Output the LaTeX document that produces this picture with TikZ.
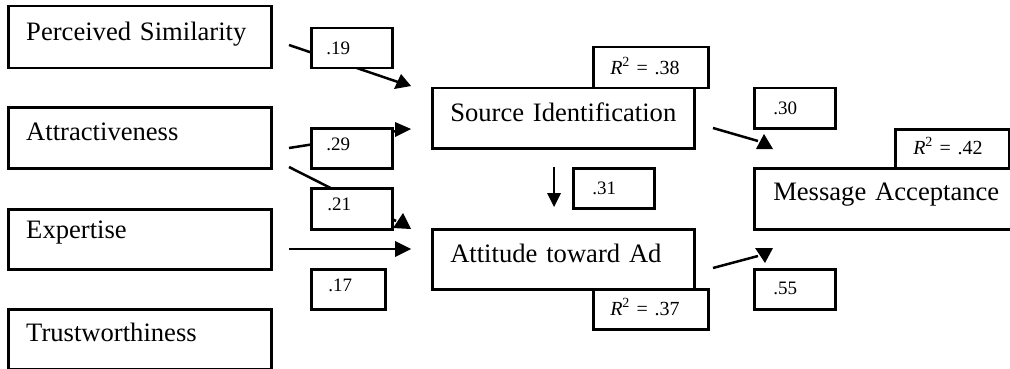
\documentclass[tikz,border=0pt]{standalone}
\usepackage{fontspec}
\setmainfont{Liberation Serif}
\begin{document}
\begin{tikzpicture}[x=1pt,y=-1pt,
  bx/.style={draw, line width=2.5pt, anchor=north west, inner ysep=0pt, align=left},
  big/.style={font=\fontsize{26.6}{30}\selectfont},
  num/.style={font=\fontsize{19}{22}\selectfont},
  rsq/.style={font=\fontsize{20}{23}\selectfont},
  conn/.style={line width=2.5pt},
  tip/.style={fill=black}]
\clip (0,0) rectangle (1010,369);
% predictor boxes
\node[bx,big,inner xsep=18pt,text width=227pt,text height=34pt,text depth=28pt] (ps) at (7,5) {\mbox{Perceived Similarity}};
\node[bx,big,inner xsep=18pt,text width=227pt,text height=33pt,text depth=28pt] (at) at (7,106) {\mbox{Attractiveness}};
\node[bx,big,inner xsep=18pt,text width=227pt,text height=29pt,text depth=31pt] (ex) at (7,208) {\mbox{Expertise}};
\node[bx,big,inner xsep=18pt,text width=227pt,text height=32pt,text depth=28pt] (tw) at (7,308) {\mbox{Trustworthiness}};
% mediators / outcome
\node[bx,big,inner xsep=18pt,text width=226pt,text height=33pt,text depth=27pt] (si) at (431,87) {\mbox{Source Identification}};
\node[bx,big,inner xsep=18pt,text width=226pt,text height=33pt,text depth=27pt] (aa) at (431,228) {\mbox{Attitude toward Ad}};
\node[bx,big,inner xsep=19pt,text width=239pt,text height=32pt,text depth=29pt] (ma) at (753,167) {\mbox{Message Acceptance}};
% R squared boxes
\node[bx,rsq,inner xsep=17pt,text width=81pt,text height=27pt,text depth=14pt] (r38) at (592,46) {\mbox{\textit{R}\textsuperscript{2} = .38}};
\node[bx,rsq,inner xsep=17pt,text width=81pt,text height=26pt,text depth=14pt] (r37) at (592,288) {\mbox{\textit{R}\textsuperscript{2} = .37}};
\node[bx,rsq,inner xsep=18pt,text width=78pt,text height=25pt,text depth=14pt] (r42) at (894,128) {\mbox{\textit{R}\textsuperscript{2} = .42}};
% path coefficients
\draw[conn] (289,45) coordinate (c1s) -- (398,82) coordinate (c1e);
\fill[tip] (394,89) -- (411,86) -- (401,74) -- cycle;
\draw[conn] (289,148) coordinate (c2s) -- (397,131) coordinate (c2e);
\fill[tip] (395,122) -- (411,129) -- (395,137) -- cycle;
\draw[conn] (289,167) coordinate (c3s) -- (396,221) coordinate (c3e);
\fill[tip] (393,228) -- (411,229) -- (403,213) -- cycle;
\draw[conn] (289,249) coordinate (c4s) -- (397,249) coordinate (c4e);
\fill[tip] (395,241) -- (411,249) -- (395,257) -- cycle;
\draw[conn] (554,167) coordinate (c5s) -- (554,195) coordinate (c5e);
\fill[tip] (547,193) -- (561,193) -- (554,207) -- cycle;
\draw[conn] (713,128) coordinate (c6s) -- (758,141) coordinate (c6e);
\fill[tip] (756,149) -- (773,149) -- (764,134) -- cycle;
\draw[conn] (713,268) coordinate (c7s) -- (758,256) coordinate (c7e);
\fill[tip] (755,248) -- (773,248) -- (765,263) -- cycle;
% coefficient boxes
\node[bx,num,fill=white,inner xsep=15pt,text width=51pt,text height=26pt,text depth=14pt] (n19) at (310,27) {.19};
\node[bx,num,fill=white,inner xsep=15pt,text width=51pt,text height=22pt,text depth=18pt] (n29) at (310,127) {.29};
\node[bx,num,fill=white,inner xsep=16pt,text width=49pt,text height=22pt,text depth=19pt] (n21) at (310,187) {.21};
\node[bx,num,fill=white,inner xsep=17pt,text width=40pt,text height=22pt,text depth=18pt] (n17) at (310,268) {.17};
\node[bx,num,fill=white,inner xsep=19pt,text width=43pt,text height=26pt,text depth=14pt] (n31) at (572,167) {.31};
\node[bx,num,fill=white,inner xsep=19pt,text width=43pt,text height=26pt,text depth=14pt] (n30) at (753,87) {.30};
\node[bx,num,fill=white,inner xsep=19pt,text width=43pt,text height=25pt,text depth=15pt] (n55) at (753,268) {.55};
\end{tikzpicture}
\end{document}
